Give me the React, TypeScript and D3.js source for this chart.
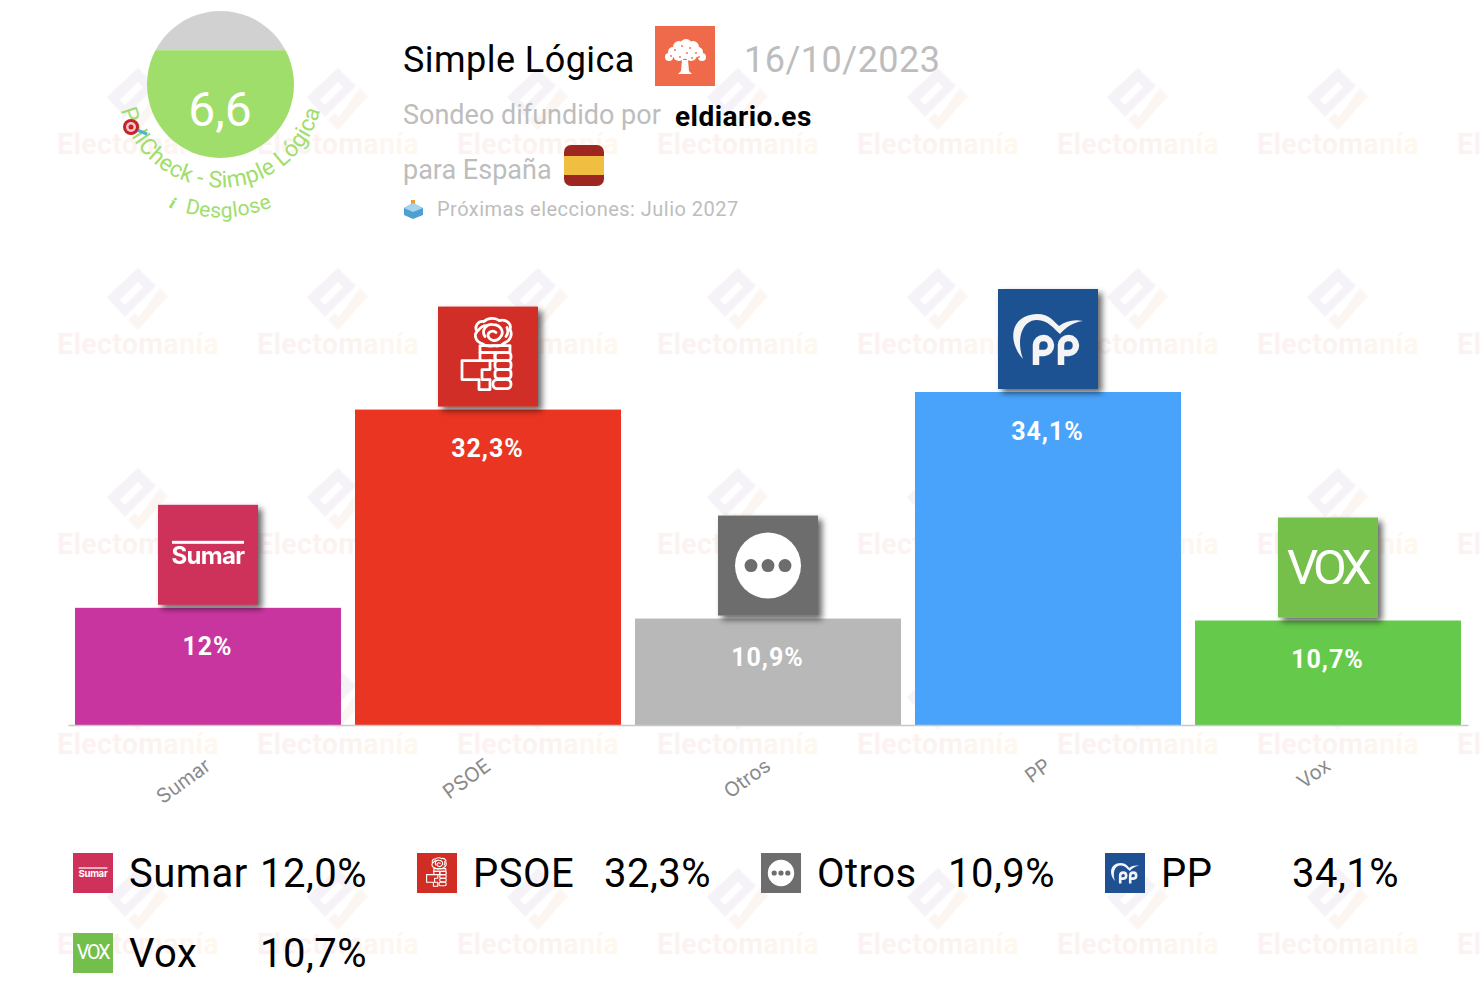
import { useRef, useEffect } from "react";
import * as d3 from "d3";

const parties = ["Sumar", "PSOE", "Otros", "PP", "Vox"];
const values = [12, 32.3, 10.9, 34.1, 10.7];
const barColors = ["#c9359f", "#ea3522", "#b8b8b8", "#4aa3fb", "#65c94b"];
const logoColors = ["#ce325a", "#d02d25", "#6d6d6d", "#1f5192", "#74bf4c"];
const score = 6.6;
const wmCols = [0, 1, 2, 3, 4, 5, 6, 7];
const wmRows = [0, 1, 2, 3, 4];
const treeBlobs = [
  [-16, -1, 4], [-12, -6, 5], [-6, -11, 6], [1, -13, 6], [8, -11, 6], [13, -6, 5], [17, -1, 4], [-6, -3, 6], [6, -3, 6], [0, -6, 7],
];
const treeSpecks = [
  [-10, -8], [-3, -12], [5, -10], [11, -5], [-14, -2], [-5, -1], [7, 0], [14, -1], [2, -5],
];

const sans = "Roboto, sans-serif";
const green = "#a0de6c";
const grayText = "#bdbdbd";

const x = d3.scaleBand<string>().domain(parties).range([68, 1468]).paddingInner(0.05).paddingOuter(0.025);
const y = d3.scaleLinear().domain([0, 34.1]).range([725, 392]);

const comma = (v: number, digits?: number) => (digits === undefined ? String(v) : v.toFixed(digits)).replace(".", ",");

const arcPath = (cx: number, cy: number, r: number, spread: number) => {
  const p = d3.path();
  p.arc(cx, cy, r, Math.PI + spread, -spread, true);
  return p.toString();
};

// party logos are drawn in a 100x100 box
function Logo({ name, color }: { name: string; color: string }) {
  return (
    <g>
      <rect width={100} height={100} fill={color} />
      {name === "Sumar" && (
        <g fill="#fff">
          <rect x={14} y={36} width={72} height={3} />
          <text x={50} y={59} textAnchor="middle" fontFamily="Inter, sans-serif" fontWeight={700} fontSize={24} letterSpacing={-0.7}>Sumar</text>
        </g>
      )}
      {name === "PSOE" && (
        <g fill="none" stroke="#fff" strokeWidth={2.8} strokeLinejoin="round" strokeLinecap="round">
          <path d="M44 37 C37 35 36 28 39 25 C36 20 40 14 46 15 C50 11 58 11 61 14 C68 12 74 17 72 23 C75 28 72 34 67 36 C64 39 60 40 56 39 C52 40 48 40 44 37Z" />
          <path d="M47 30 C43 24 48 17 55 18 C63 18 67 26 62 31 C58 36 51 34 50 29 C50 25 55 23 58 26" />
          <path d="M40 24 C43 20 45 19 48 19 M68 30 C70 27 70 23 69 21" />
          <rect x={42} y={39} width={30} height={7} />
          <rect x={42} y={46} width={15} height={8} />
          <rect x={57} y={46} width={16} height={8} rx={3} />
          <rect x={57} y={54} width={16} height={9} rx={3} />
          <rect x={57} y={63} width={16} height={9} rx={3} />
          <rect x={55} y={73} width={18} height={9} rx={4} />
          <path d="M42 54 H24 V73 H41 V83 H52 V73 H44 V63 H52 V54" />
        </g>
      )}
      {name === "Otros" && (
        <g>
          <circle cx={50} cy={50} r={33} fill="#fff" />
          {[-17, 0, 17].map((d) => <circle key={d} cx={50 + d} cy={50} r={6.5} fill={color} />)}
        </g>
      )}
      {name === "PP" && (
        <g>
          <path d="M25 70 C9 52 12 26 39 25 C52 25 56 33 61 37 C68 32 76 30 85 32 C76 33 68 38 62 45 C56 40 50 31 39 31 C24 31 18 50 25 70Z" fill="#f4f4f4" />
          <g fill="none" stroke="#f4f4f4" strokeWidth={6.5}>
            <path d="M38 76 V56 A7.5 7.5 0 1 1 46 64 H39" />
            <path d="M63 76 V56 A7.5 7.5 0 1 1 71 64 H64" />
          </g>
        </g>
      )}
      {name === "Vox" && (
        <text x={49} y={66} textAnchor="middle" fontFamily={sans} fontWeight={400} fontSize={49} letterSpacing={-5} fill="#fff">VOX</text>
      )}
    </g>
  );
}

function Watermark({ cx, cy }: { cx: number; cy: number }) {
  return (
    <g transform={`translate(${cx},${cy})`}>
      <polygon points="0,-32 18,-14 -13,17 -31,-3" fill="#f5f2f8" />
      <polygon points="0,-18 5,-13 -13,5 -18,0" fill="#fff" />
      <polygon points="22,-12 30,-4 0,30 -10,20 -3,13 1,17" fill="#fbf6f2" />
      <text x={0} y={54} textAnchor="middle" fontFamily={sans} fontWeight={700} fontSize={28.6} letterSpacing={0.3} fill="url(#wmText)">Electomanía</text>
    </g>
  );
}

export default function App() {
  const axisRef = useRef<SVGGElement>(null);

  useEffect(() => {
    const axis = d3.select(axisRef.current).call(d3.axisBottom(x).tickSize(0).tickPadding(0));
    axis.select(".domain").attr("stroke", "#c8c8c8").attr("stroke-width", 1.5);
    axis
      .selectAll("text")
      .attr("transform", "translate(0,38) rotate(-36)")
      .attr("text-anchor", "end")
      .attr("dy", "0.35em")
      .attr("y", 0)
      .attr("fill", "#8a8a8a")
      .style("font-family", "Inter, sans-serif")
      .style("font-size", "20px");
  }, []);

  const cx = 220.5;
  const cy = 84.5;
  const r = 73.5;
  const level = d3.scaleLinear().domain([0, 9]).range([cy + r, cy - r])(score);

  return (
    <svg width={1480} height={1006} style={{ position: "absolute", left: 0, top: 0 }}>
      <defs>
        <linearGradient id="wmText">
          <stop offset="0%" stopColor="#fbf2f2" />
          <stop offset="60%" stopColor="#fcf3f0" />
          <stop offset="100%" stopColor="#fff8ee" />
        </linearGradient>
        <filter id="logoShadow" x="-10%" y="-10%" width="125%" height="125%">
          <feDropShadow dx={4} dy={4} stdDeviation={3} floodColor="#000" floodOpacity={0.6} />
        </filter>
        <clipPath id="gauge"><circle cx={cx} cy={cy} r={r} /></clipPath>
        <path id="arc1" d={arcPath(cx, cy, 103, 0.3)} />
        <path id="arc2" d={arcPath(cx, cy, 133, 0.3)} />
      </defs>

      {wmRows.map((j) => wmCols.map((i) => <Watermark key={`${i}-${j}`} cx={138 + i * 200} cy={100 + j * 200} />))}

      {/* gauge */}
      <g clipPath="url(#gauge)">
        <rect x={cx - r} y={cy - r} width={2 * r} height={level - cy + r} fill="#d1d1d1" />
        <rect x={cx - r} y={level} width={2 * r} height={cy + r - level} fill={green} />
      </g>
      <text x={cx - 0.5} y={126} textAnchor="middle" fontFamily={sans} fontSize={48} fill="#fff">{comma(score)}</text>
      <text fontFamily={sans} fontSize={23} letterSpacing={0.3} fill={green}>
        <textPath href="#arc1" startOffset="50%" textAnchor="middle">PollCheck - Simple Lógica</textPath>
      </text>
      <text fontFamily={sans} fontSize={21} letterSpacing={0.4} fill={green}>
        <textPath href="#arc2" startOffset="50%" textAnchor="middle">
          <tspan fontFamily="DejaVu Serif" fontStyle="italic" fontWeight={700} fontSize={15}>i</tspan>{"\u00a0\u00a0Desglose"}
        </textPath>
      </text>
      <g>
        <line x1={132} y1={128} x2={147} y2={134} stroke="#4fb3cf" strokeWidth={3} />
        <circle cx={131} cy={127} r={8} fill="#c8232c" />
        <circle cx={131} cy={127} r={5} fill="#f3c9c9" />
        <circle cx={131} cy={127} r={2.5} fill="#c8232c" />
      </g>

      {/* header */}
      <text x={403} y={72} fontFamily={sans} fontSize={36} letterSpacing={0.45} fill="#000">Simple Lógica</text>
      <rect x={655} y={26} width={60} height={60} fill="#ef6a4a" />
      <g transform="translate(685,58)" fill="#fff">
        {treeBlobs.map(([bx, by, br], i) => <circle key={i} cx={bx} cy={by} r={br} />)}
        {treeSpecks.map(([bx, by], i) => <circle key={i} cx={bx} cy={by} r={0.9} fill="#ef6a4a" />)}
        <path d="M-3 2 H3 L4 13 L7 16 H-7 L-4 13Z" />
      </g>
      <text x={744} y={72} fontFamily={sans} fontSize={36} letterSpacing={0.5} fill={grayText}>16/10/2023</text>
      <text x={403} y={124} fontFamily={sans} fontSize={27} fill={grayText}>Sondeo difundido por</text>
      <text x={675} y={126} fontFamily={sans} fontSize={28} fontWeight={700} letterSpacing={0.45} fill="#000">eldiario.es</text>
      <text x={403} y={179} fontFamily={sans} fontSize={27} fill={grayText}>para España</text>
      <g>
        <rect x={564} y={145} width={40} height={41} rx={7} fill="#9e2620" />
        <rect x={564} y={156} width={40} height={19} fill="#f0bf41" />
      </g>
      <g>
        <rect x={411} y={200} width={4} height={7} fill="#f09a3e" />
        <path d="M413 203 L423 208 L423 215 L413 219 L404 215 L404 208Z" fill="#4f9fd0" />
        <path d="M413 203 L423 208 L413 212 L404 208Z" fill="#a5d5ee" />
      </g>
      <text x={437} y={216} fontFamily={sans} fontSize={20} letterSpacing={0.47} fill={grayText}>Próximas elecciones: Julio 2027</text>

      {/* bars */}
      {parties.map((p, i) => (
        <g key={p}>
          <rect x={x(p)} y={y(values[i])} width={x.bandwidth()} height={y(0) - y(values[i])} fill={barColors[i]} />
          <text x={x(p)! + x.bandwidth() / 2 - 0.5} y={y(values[i]) + 47.5} textAnchor="middle" fontFamily={sans} fontWeight={700} fontSize={25} letterSpacing={1} fill="#fff">
            {comma(values[i]) + "%"}
          </text>
          <g transform={`translate(${x(p)! + x.bandwidth() / 2 - 50},${y(values[i]) - 103})`} filter="url(#logoShadow)">
            <Logo name={p} color={logoColors[i]} />
          </g>
        </g>
      ))}
      <g ref={axisRef} transform={`translate(0,${y(0)})`} />

      {/* legend */}
      {parties.map((p, i) => {
        const lx = 73 + (i % 4) * 344;
        const ly = 853 + Math.floor(i / 4) * 80;
        return (
          <g key={p} transform={`translate(${lx},${ly})`}>
            <g transform="scale(0.4)"><Logo name={p} color={logoColors[i]} /></g>
            <text x={56} y={33.5} fontFamily={sans} fontSize={40} letterSpacing={0.5} fill="#000">{p}</text>
            <text x={187} y={33.5} fontFamily={sans} fontSize={40} letterSpacing={0.5} fill="#000">{comma(values[i], 1)}%</text>
          </g>
        );
      })}
    </svg>
  );
}
